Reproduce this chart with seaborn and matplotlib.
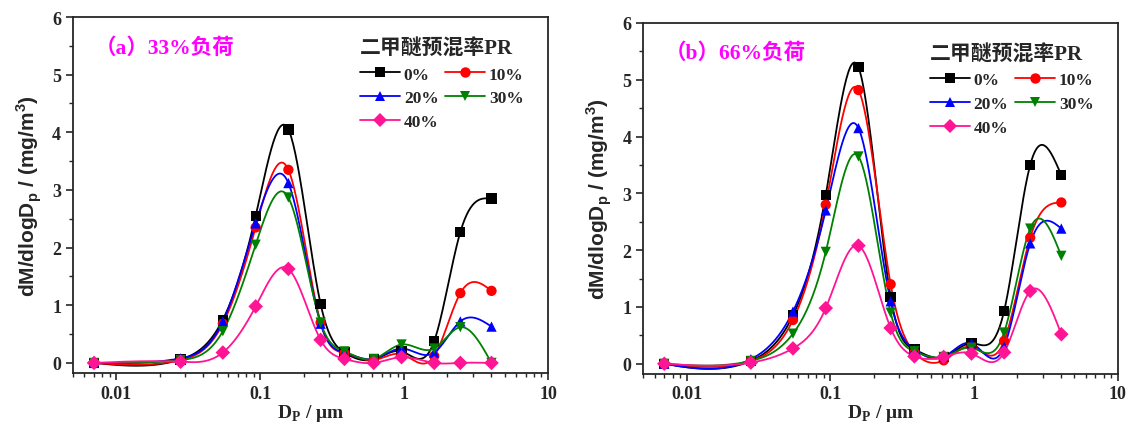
import numpy as np
import pandas as pd
import matplotlib
matplotlib.use("Agg")
import matplotlib.pyplot as plt
import seaborn as sns
from matplotlib.lines import Line2D
from matplotlib.ticker import MultipleLocator, NullFormatter
from matplotlib.font_manager import FontProperties

# stage mid-point diameters (um)
dp = [0.007, 0.028, 0.055, 0.093, 0.157, 0.263, 0.385, 0.615, 0.96, 1.62, 2.46, 4.05]
pr_labels = ["0%", "10%", "20%", "30%", "40%"]

# (a) 33% load, dM/dlogDp (mg/m3)
a_pr0 = [0, 0.06, 0.75, 2.55, 4.05, 1.02, 0.18, 0.06, 0.20, 0.38, 2.27, 2.85]
a_pr10 = [0, 0.05, 0.68, 2.35, 3.35, 0.70, 0.17, 0.05, 0.15, 0.12, 1.21, 1.25]
a_pr20 = [0, 0.08, 0.72, 2.42, 3.12, 0.68, 0.18, 0.07, 0.25, 0.18, 0.72, 0.63]
a_pr30 = [0, 0.05, 0.55, 2.05, 2.87, 0.70, 0.20, 0.07, 0.32, 0.25, 0.62, 0.00]
a_pr40 = [0, 0.02, 0.18, 0.98, 1.63, 0.40, 0.07, 0.00, 0.10, 0.00, 0.00, 0.00]

# (b) 66% load
b_pr0 = [0, 0.05, 0.85, 2.97, 5.22, 1.18, 0.25, 0.12, 0.36, 0.93, 3.50, 3.32]
b_pr10 = [0, 0.05, 0.77, 2.80, 4.82, 1.40, 0.20, 0.06, 0.30, 0.40, 2.22, 2.84]
b_pr20 = [0, 0.08, 0.92, 2.70, 4.15, 1.10, 0.25, 0.12, 0.36, 0.30, 2.12, 2.38]
b_pr30 = [0, 0.05, 0.53, 1.97, 3.65, 0.90, 0.22, 0.12, 0.28, 0.55, 2.38, 1.90]
b_pr40 = [0, 0.02, 0.27, 0.98, 2.08, 0.63, 0.13, 0.12, 0.18, 0.20, 1.28, 0.52]

panel_titles = ["（a）33%负荷", "（b）66%负荷"]
legend_title = "二甲醚预混率PR"

colors = ["#000000", "#FF0000", "#0000FF", "#008000", "#FF1493"]
markers = ["s", "o", "^", "v", "D"]
palette = dict(zip(pr_labels, colors))
marker_map = dict(zip(pr_labels, markers))


def natural_spline(x, y, num=400):
    # natural cubic spline through the points (x already in log space)
    x = np.asarray(x, float)
    y = np.asarray(y, float)
    n = len(x)
    h = np.diff(x)
    A = np.zeros((n, n))
    r = np.zeros(n)
    A[0, 0] = 1
    A[-1, -1] = 1
    for i in range(1, n - 1):
        A[i, i - 1] = h[i - 1]
        A[i, i] = 2 * (h[i - 1] + h[i])
        A[i, i + 1] = h[i]
        r[i] = 3 * ((y[i + 1] - y[i]) / h[i] - (y[i] - y[i - 1]) / h[i - 1])
    c = np.linalg.solve(A, r)
    b = (y[1:] - y[:-1]) / h - h * (2 * c[:-1] + c[1:]) / 3
    d = (c[1:] - c[:-1]) / (3 * h)
    xs = np.linspace(x[0], x[-1], num)
    idx = np.clip(np.searchsorted(x, xs) - 1, 0, n - 2)
    t = xs - x[idx]
    ys = y[idx] + b[idx] * t + c[idx] * t ** 2 + d[idx] * t ** 3
    return xs, ys


sns.set_style("ticks")
plt.rcParams["font.family"] = ["Liberation Serif", "Noto Sans CJK SC"]
plt.rcParams["font.weight"] = "bold"
plt.rcParams["axes.linewidth"] = 1.3

fig = plt.figure(figsize=(11.28, 4.27), dpi=100)
ax_a = fig.add_axes([0.0647, 0.1241, 0.4211, 0.8337])
ax_b = fig.add_axes([0.5703, 0.1225, 0.4206, 0.8213])

panels = [
    (ax_a, [a_pr0, a_pr10, a_pr20, a_pr30, a_pr40]),
    (ax_b, [b_pr0, b_pr10, b_pr20, b_pr30, b_pr40]),
]

logdp = np.log10(dp)

for k, (ax, series) in enumerate(panels):
    ax.set_xscale("log")
    curves = []
    points = []
    for lab, vals in zip(pr_labels, series):
        xs, ys = natural_spline(logdp, vals)
        curves.append(pd.DataFrame({"x": 10 ** xs, "y": ys, "PR": lab}))
        points.append(pd.DataFrame({"x": dp, "y": vals, "PR": lab}))
    curves = pd.concat(curves)
    points = pd.concat(points)

    sns.lineplot(data=curves, x="x", y="y", hue="PR", palette=palette,
                 sort=False, estimator=None, linewidth=1.3, legend=False, ax=ax)
    sns.scatterplot(data=points, x="x", y="y", hue="PR", style="PR",
                    palette=palette, markers=marker_map, s=55, linewidth=0,
                    legend=False, zorder=3, ax=ax)

    ax.set_xlim(0.005, 10)
    ax.set_ylim(-0.175, 6)
    ax.set_xticks([0.01, 0.1, 1, 10])
    ax.set_xticklabels(["0.01", "0.1", "1", "10"])
    ax.xaxis.set_minor_formatter(NullFormatter())
    ax.yaxis.set_major_locator(MultipleLocator(1))
    ax.yaxis.set_minor_locator(MultipleLocator(0.5))
    ax.tick_params(which="major", direction="out", length=5, width=1.2,
                   labelsize=13, top=False, right=False)
    ax.tick_params(which="minor", direction="out", length=3, width=1.0,
                   top=False, right=False)
    for sp in ax.spines.values():
        sp.set_visible(True)
        sp.set_linewidth(1.3)

    ax.set_xlabel(r"D$_\mathregular{P}$ / μm", fontsize=14, fontweight="bold",
                  labelpad=0)
    ax.set_ylabel(r"dM/dlogD$_\mathregular{p}$ / (mg/m$^\mathregular{3}$)",
                  fontsize=15, fontweight="bold", family="Liberation Sans",
                  labelpad=6)

    ax.text(0.045, 0.915, panel_titles[k], transform=ax.transAxes,
            color="#FF00FF", fontsize=15.5, fontweight="bold", va="center")

    handles = [Line2D([], [], color=colors[i], marker=markers[i], markersize=7.5,
                      linewidth=1.3, markeredgewidth=0) for i in range(5)]
    order = [0, 2, 4, 1, 3]
    leg = ax.legend([handles[i] for i in order], [pr_labels[i] for i in order],
                    ncol=2, loc="upper left", bbox_to_anchor=(0.605, 0.94),
                    frameon=False, title=legend_title,
                    title_fontproperties=FontProperties(
                        family=["Liberation Serif", "Noto Sans CJK SC"],
                        weight="bold", size=15),
                    prop=FontProperties(family="Liberation Serif",
                                        weight="bold", size=12.5),
                    handlelength=2.3, handletextpad=0.2, columnspacing=0.4,
                    labelspacing=0.45, borderpad=0, borderaxespad=0)
    leg._legend_box.align = "left"

fig.savefig("out.png", dpi=100)
